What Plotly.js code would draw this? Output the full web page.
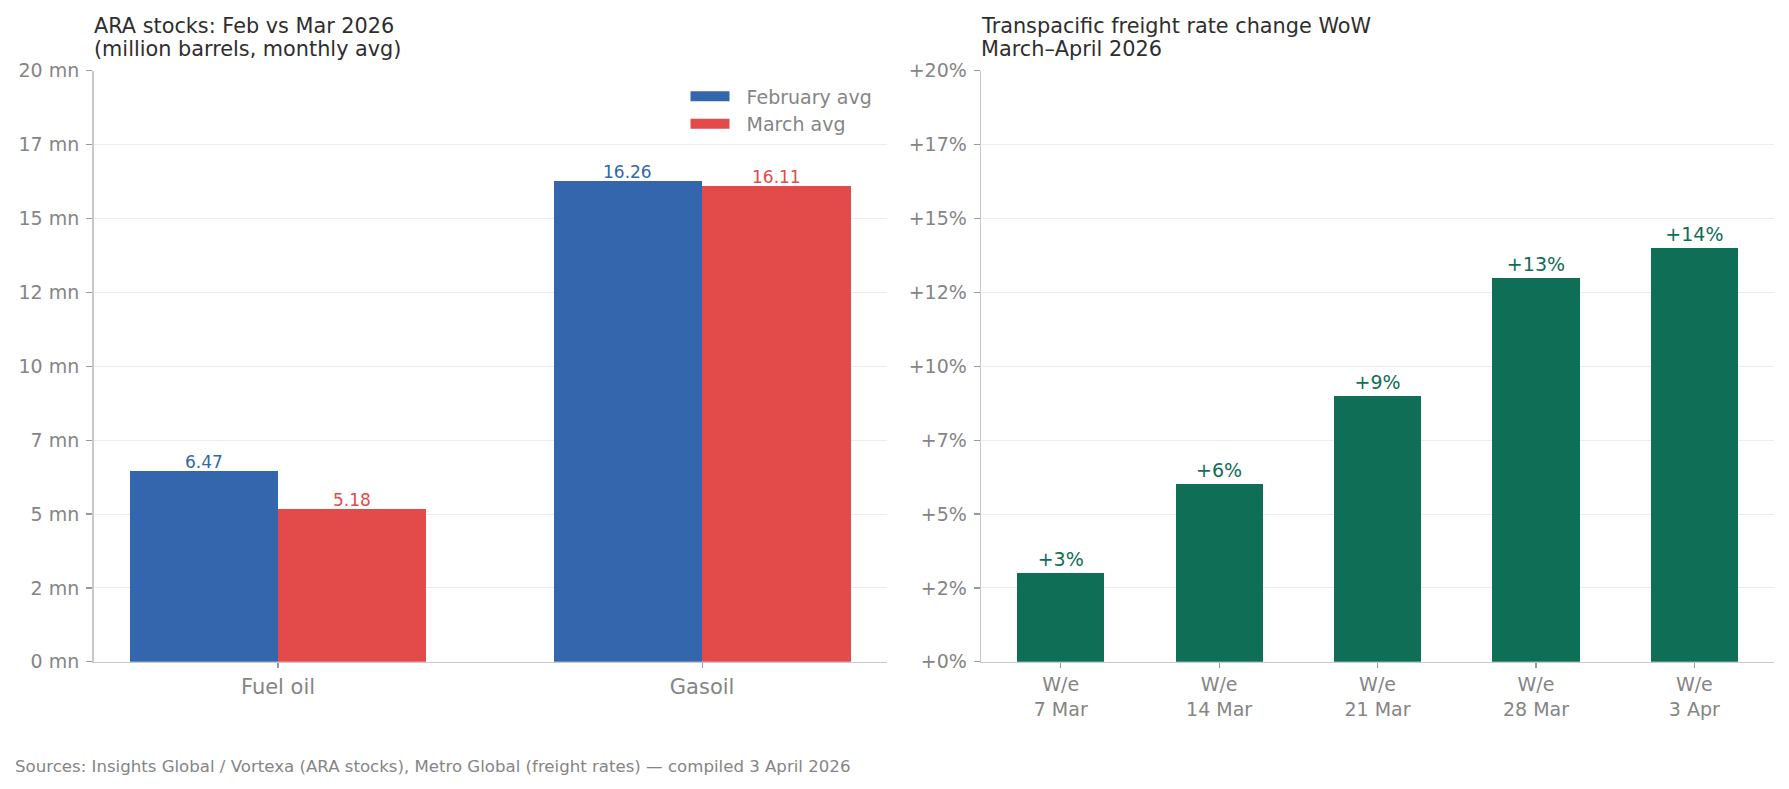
<!DOCTYPE html>
<html>
<head>
<meta charset="utf-8">
<script src="https://cdn.plot.ly/plotly-3.0.1.min.js"></script>
<style>html,body{margin:0;padding:0;background:#fff;}#chart{width:1789px;height:789px;}</style>
</head>
<body>
<div id="chart"></div>
<script>
// ---- Data ----
const araCategories = ["Fuel oil", "Gasoil"];
const febAvg = [6.47, 16.26];
const marAvg = [5.18, 16.11];
const araTickVals = [0, 2.5, 5, 7.5, 10, 12.5, 15, 17.5, 20];
const araTickText = ["0 mn", "2 mn", "5 mn", "7 mn", "10 mn", "12 mn", "15 mn", "17 mn", "20 mn"];

const weekLabels = ["W/e<br>7 Mar", "W/e<br>14 Mar", "W/e<br>21 Mar", "W/e<br>28 Mar", "W/e<br>3 Apr"];
const freightChange = [3, 6, 9, 13, 14];
const freightTickVals = [0, 2.5, 5, 7.5, 10, 12.5, 15, 17.5, 20];
const freightTickText = ["+0%", "+2%", "+5%", "+7%", "+10%", "+12%", "+15%", "+17%", "+20%"];

// ---- Styles ----
const BLUE = "#3366ad", RED = "#e34a4a", GREEN = "#0f6e56";
const FONT = "DejaVu Sans, sans-serif";
const GRAY = "#858585";
const TITLE = "#2e2e2e";
const BAR_W = 0.35;
const NB = "\u00a0\u00a0";

const traces = [
  {type: "bar", name: "February avg", x: araCategories, y: febAvg, xaxis: "x", yaxis: "y",
   marker: {color: BLUE}, width: BAR_W, offset: -BAR_W, showlegend: false, legendgroup: "feb", hoverinfo: "x+y"},
  {type: "bar", name: "March avg", x: araCategories, y: marAvg, xaxis: "x", yaxis: "y",
   marker: {color: RED}, width: BAR_W, offset: 0, showlegend: false, legendgroup: "mar", hoverinfo: "x+y"},
  // legend entries (wide swatches like the reference)
  {type: "scatter", mode: "lines", name: NB + "February avg", x: [null], y: [null], xaxis: "x", yaxis: "y",
   line: {color: BLUE, width: 13}, legendgroup: "feb", hoverinfo: "skip"},
  {type: "scatter", mode: "lines", name: NB + "March avg", x: [null], y: [null], xaxis: "x", yaxis: "y",
   line: {color: RED, width: 13}, legendgroup: "mar", hoverinfo: "skip"},
  {type: "bar", name: "Freight", x: weekLabels, y: freightChange, xaxis: "x2", yaxis: "y2",
   marker: {color: GREEN}, width: 0.55, showlegend: false,
   texttemplate: "+%{y}%", textposition: "outside", cliponaxis: false, constraintext: "none",
   textfont: {color: GREEN, size: 19, family: FONT}}
];

// value labels for the ARA bars, built from the data arrays
const labelAnnotations = [];
araCategories.forEach((c, i) => {
  labelAnnotations.push({xref: "x", yref: "y", x: i - BAR_W / 2, y: febAvg[i], text: febAvg[i].toFixed(2),
    showarrow: false, xanchor: "center", yanchor: "middle", yshift: 9, font: {family: FONT, size: 17, color: BLUE}});
  labelAnnotations.push({xref: "x", yref: "y", x: i + BAR_W / 2, y: marAvg[i], text: marAvg[i].toFixed(2),
    showarrow: false, xanchor: "center", yanchor: "middle", yshift: 9, font: {family: FONT, size: 17, color: RED}});
});

const axisCommon = {
  showline: true, linecolor: "#c8c8c8", linewidth: 1.5, zeroline: false,
  ticks: "outside", ticklen: 6, tickcolor: "#999", tickwidth: 1.2,
  tickfont: {family: FONT, size: 19, color: GRAY}
};

const layout = {
  width: 1789, height: 789,
  paper_bgcolor: "#fff", plot_bgcolor: "#fff",
  margin: {l: 0, r: 0, t: 0, b: 0},
  font: {family: FONT},
  barmode: "overlay",
  bargap: 0,
  showlegend: true,
  legend: {x: 0.4905, xanchor: "right", y: 0.902, yanchor: "top", itemwidth: 39,
           font: {family: FONT, size: 19, color: GRAY}, bgcolor: "rgba(0,0,0,0)", tracegroupgap: 0},
  xaxis: Object.assign({}, axisCommon, {domain: [0.0523, 0.4956], range: [-0.435, 1.435], ticklen: 5,
           showgrid: false, tickfont: {family: FONT, size: 21, color: GRAY}, anchor: "y"}),
  yaxis: Object.assign({}, axisCommon, {domain: [0.1612, 0.9104], range: [0, 20], ticklabelstandoff: 3,
           tickvals: araTickVals, ticktext: araTickText, showgrid: true, gridcolor: "#ececec", gridwidth: 1, anchor: "x"}),
  xaxis2: Object.assign({}, axisCommon, {domain: [0.5484, 0.9916], range: [-0.5025, 4.5025], ticklen: 5,
           showgrid: false, anchor: "y2"}),
  yaxis2: Object.assign({}, axisCommon, {domain: [0.1612, 0.9104], range: [0, 20], ticklabelstandoff: 3,
           tickvals: freightTickVals, ticktext: freightTickText, showgrid: true, gridcolor: "#ececec", gridwidth: 1, anchor: "x2"}),
  annotations: [
    {xref: "paper", yref: "paper", x: 0.0512, y: 1 - 26 / 789, xanchor: "left", yanchor: "middle", align: "left",
     showarrow: false, text: "ARA stocks: Feb vs Mar 2026", font: {family: FONT, size: 20.8, color: TITLE}},
    {xref: "paper", yref: "paper", x: 0.0512, y: 1 - 49 / 789, xanchor: "left", yanchor: "middle", align: "left",
     showarrow: false, text: "(million barrels, monthly avg)", font: {family: FONT, size: 20.8, color: TITLE}},
    {xref: "paper", yref: "paper", x: 0.5473, y: 1 - 26 / 789, xanchor: "left", yanchor: "middle", align: "left",
     showarrow: false, text: "Transpacific freight rate change WoW", font: {family: FONT, size: 20.8, color: TITLE}},
    {xref: "paper", yref: "paper", x: 0.5473, y: 1 - 49 / 789, xanchor: "left", yanchor: "middle", align: "left",
     showarrow: false, text: "March\u2013April 2026", font: {family: FONT, size: 20.8, color: TITLE}},
    {xref: "paper", yref: "paper", x: 0.0072, y: 0.029, xanchor: "left", yanchor: "middle", align: "left",
     showarrow: false, text: "Sources: Insights Global / Vortexa (ARA stocks), Metro Global (freight rates) \u2014 compiled 3 April 2026",
     font: {family: FONT, size: 16.6, color: GRAY}}
  ].concat(labelAnnotations)
};

Plotly.newPlot("chart", traces, layout, {displayModeBar: false, staticPlot: true});
</script>
</body>
</html>
